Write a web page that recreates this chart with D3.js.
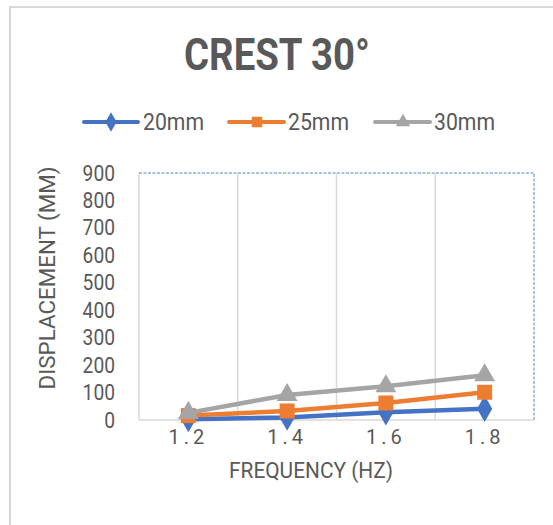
<!DOCTYPE html>
<html>
<head>
<meta charset="utf-8">
<script src="https://cdn.jsdelivr.net/npm/d3@7"></script>
<style>
  html, body { margin: 0; padding: 0; background: #fff; }
  svg { display: block; font-family: Roboto, "Open Sans", sans-serif; }
</style>
</head>
<body>
<svg id="chart" width="553" height="525"></svg>
<script>
const title = "CREST 30°";
const categories = ["1.2", "1.4", "1.6", "1.8"];
const seriesNames = ["20mm", "25mm", "30mm"];
const values20 = [3, 9, 28, 41];
const values25 = [16, 33, 62, 101];
const values30 = [26, 91, 123, 163];
const yTicks = [0, 100, 200, 300, 400, 500, 600, 700, 800, 900];
const xTitle = "FREQUENCY (HZ)";
const yTitle = "DISPLACEMENT (MM)";

const colors = ["#4472C4", "#ED7D31", "#A5A5A5"];
const symbols = [d3.symbolDiamond, d3.symbolSquare, d3.symbolTriangle];
const series = [values20, values25, values30].map((v, i) => ({ name: seriesNames[i], values: v, color: colors[i], symbol: symbols[i] }));

const svg = d3.select("#chart");
const textColor = "#595959";

// outer chart border (left and top visible)
svg.append("path").attr("d", "M10,525 L10,7 L553,7").attr("fill", "none").attr("stroke", "#d9d9d9").attr("stroke-width", 2);

const pLeft = 139, pRight = 534, pTop = 173, pBottom = 420;
const x = d3.scaleBand().domain(categories).range([pLeft, pRight]);
const y = d3.scaleLinear().domain([0, 900]).range([pBottom, pTop]);

// Title
svg.append("text").attr("x", 277).attr("y", 70).attr("text-anchor", "middle")
  .attr("font-size", 44).attr("font-weight", 700).attr("fill", textColor)
  .attr("textLength", 186).attr("lengthAdjust", "spacingAndGlyphs").text(title);

// Legend
const legendItems = [
  { lx1: 84, lx2: 138, mx: 111, tx: 143 },
  { lx1: 229, lx2: 284, mx: 257, tx: 288 },
  { lx1: 375, lx2: 430, mx: 403, tx: 434 }
];
const legendY = 122;
series.forEach((s, i) => {
  const L = legendItems[i];
  svg.append("line").attr("x1", L.lx1).attr("x2", L.lx2).attr("y1", legendY).attr("y2", legendY)
    .attr("stroke", s.color).attr("stroke-width", 4).attr("stroke-linecap", "round");
  svg.append("path").attr("d", d3.symbol().type(s.symbol).size(i === 2 ? 90 : 110)())
    .attr("transform", `translate(${L.mx},${legendY})`).attr("fill", s.color);
  svg.append("text").attr("x", L.tx).attr("y", legendY + 8).attr("font-size", 23).attr("fill", textColor)
    .attr("textLength", 61).attr("lengthAdjust", "spacingAndGlyphs").text(s.name);
});

// vertical gridlines at category boundaries
const bounds = categories.map(c => x(c));
svg.append("g").selectAll("line").data(bounds).join("line")
  .attr("x1", d => d).attr("x2", d => d).attr("y1", pTop).attr("y2", pBottom)
  .attr("stroke", "#d9d9d9").attr("stroke-width", 1.5);

// selection-style dotted border at top and right
svg.append("path").attr("d", `M${pLeft},${pTop} L${pRight},${pTop} L${pRight},${pBottom}`)
  .attr("fill", "none").attr("stroke", "#8faadc").attr("stroke-width", 1.5).attr("stroke-dasharray", "3,1.5");

// x axis line
svg.append("line").attr("x1", pLeft).attr("x2", pRight).attr("y1", pBottom).attr("y2", pBottom)
  .attr("stroke", "#d9d9d9").attr("stroke-width", 1.5);

// y axis labels
const yAxis = d3.axisLeft(y).tickValues(yTicks).tickSize(0).tickPadding(24);
const gy = svg.append("g").attr("transform", `translate(${pLeft},0)`).call(yAxis);
gy.select(".domain").remove();
gy.selectAll("text").attr("font-size", 22).attr("fill", textColor).attr("font-family", "Roboto, sans-serif")
  .attr("textLength", d => String(d).length * 10.8).attr("lengthAdjust", "spacingAndGlyphs");

// x axis labels
const xAxis = d3.axisBottom(x).tickSize(0).tickPadding(20);
const gx = svg.append("g").attr("transform", `translate(0,${pBottom})`).call(xAxis);
gx.select(".domain").remove();
gx.selectAll("text").attr("font-size", 20).attr("fill", textColor).attr("font-family", "Roboto, sans-serif")
  .attr("letter-spacing", 4).attr("dy", "0.2em");

// axis titles
svg.append("text").attr("x", 311).attr("y", 478).attr("text-anchor", "middle")
  .attr("font-size", 22).attr("fill", textColor).attr("textLength", 164).attr("lengthAdjust", "spacingAndGlyphs").text(xTitle);
svg.append("text").attr("transform", "translate(55,278) rotate(-90)").attr("text-anchor", "middle")
  .attr("font-size", 22).attr("fill", textColor).attr("textLength", 223).attr("lengthAdjust", "spacingAndGlyphs").text(yTitle);

// lines and markers
const cx = c => x(c) + x.bandwidth() / 2;
const line = d3.line().x((d, i) => cx(categories[i])).y(d => y(d));
series.forEach((s, si) => {
  const g = svg.append("g");
  g.append("path").datum(s.values).attr("d", line).attr("fill", "none")
    .attr("stroke", s.color).attr("stroke-width", 4.5).attr("stroke-linejoin", "round");
  g.selectAll("path.m").data(s.values).join("path").attr("class", "m")
    .attr("d", d3.symbol().type(s.symbol).size(si === 2 ? 190 : (si === 0 ? 200 : 225))())
    .attr("transform", (d, i) => `translate(${cx(categories[i])},${y(d)})`)
    .attr("fill", s.color);
});
</script>
</body>
</html>
